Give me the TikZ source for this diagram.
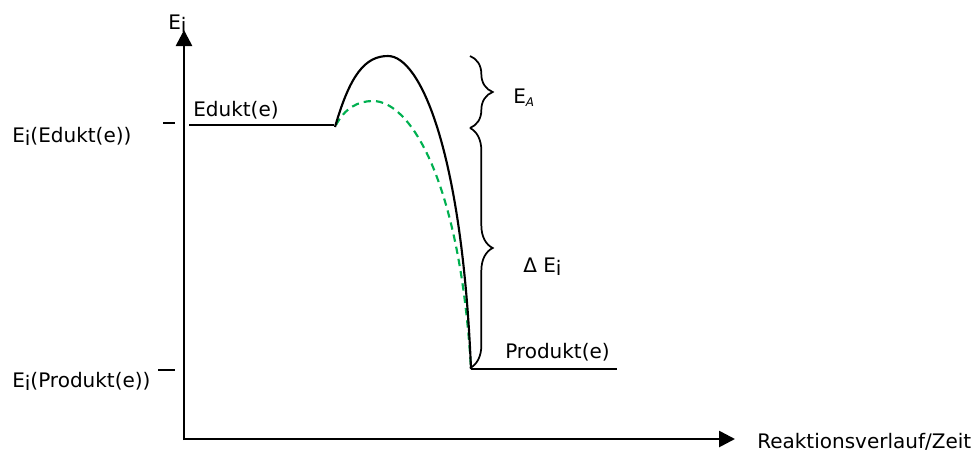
\documentclass[tikz,border=0pt]{standalone}
\usepackage{fontspec}
\setmainfont{DejaVu Sans}
\usetikzlibrary{arrows.meta,decorations.pathreplacing}
\definecolor{greendash}{RGB}{0,176,80}
\tikzset{
  axis/.style={line width=2pt,-{Triangle[length=12pt,width=12pt]}},
  level/.style={line width=1.3pt},
  tick/.style={line width=1.2pt},
  curve/.style={line width=1.6pt},
  catcurve/.style={line width=1.6pt,greendash,dash pattern=on 5.5pt off 3.8pt},
  bracedec/.style={line width=1.3pt,decorate,decoration={brace,amplitude=17pt,aspect=0.5}},
  lbl/.style={font=\fontsize{15pt}{18pt}\selectfont,inner sep=0pt,anchor=base west}
}
\newcommand{\subi}{\raisebox{-0.35ex}{i}}
\begin{document}
\begin{tikzpicture}[x=0.75pt,y=-0.75pt]
\useasboundingbox (0,0) rectangle (977,454);
% coordinates
\coordinate (origin) at (184,440);
\coordinate (ytop) at (184,30);
\coordinate (xend) at (735,439);
\coordinate (xstart) at (183,439);
\coordinate (edl) at (189,125);
\coordinate (edr) at (334,125);
\coordinate (prl) at (471,369);
\coordinate (prr) at (617,369);
\coordinate (peak) at (388,56);
\coordinate (gpeak) at (373,101);
\coordinate (ta1) at (163,123);
\coordinate (ta2) at (175,123);
\coordinate (tb1) at (158,370);
\coordinate (tb2) at (175,370);
\coordinate (b1) at (470,56);
\coordinate (b2) at (470,128);
\coordinate (b3) at (470,368);
% axes
\draw[axis] (origin) -- (ytop);
\draw[axis] (xstart) -- (xend);
% ticks
\draw[tick] (ta1) -- (ta2);
\draw[tick] (tb1) -- (tb2);
% levels
\draw[level] (edl) -- (edr);
\draw[level] (prl) -- (prr);
% curves
\draw[catcurve] (336,125) .. controls (345,108) and (358,101) .. (gpeak)
  .. controls (410,101) and (460,180) .. (prl);
\draw[curve] (335,127) .. controls (350,75) and (365,56) .. (peak)
  .. controls (420,56) and (462,150) .. (prl);
% braces
\draw[bracedec] (b1) -- (b2);
\draw[bracedec] (b2) -- (b3);
% labels
\node[lbl] (ylab) at (168,29) {E\subi};
\node[lbl] (xlab) at (757,448) {Reaktionsverlauf/Zeit};
\node[lbl] (eed) at (12,142) {E\subi(Edukt(e))};
\node[lbl] (epr) at (12,387) {E\subi(Produkt(e))};
\node[lbl] (edlab) at (193,116) {Edukt(e)};
\node[lbl] (prlab) at (505,358) {Produkt(e)};
\node[lbl] (ea) at (513,103) {E\raisebox{-0.3ex}{\fontsize{9pt}{10pt}\selectfont\itshape A}};
\node[lbl] (de) at (523,272) {Δ E\subi};
\end{tikzpicture}
\end{document}
